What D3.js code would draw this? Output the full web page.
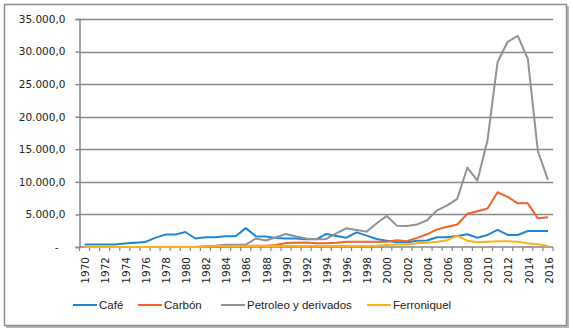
<!DOCTYPE html>
<html>
<head>
<meta charset="utf-8">
<script src="https://cdn.jsdelivr.net/npm/d3@7"></script>
<style>
    body { margin: 0; background: #fff; }
</style>
</head>
<body>
<div id="vizExport"></div>
<script>

// Years on the category axis
const years = d3.range(1970, 2017);

// Series values
const cafe = [400, 400, 400, 400, 550, 650, 750, 1400, 1900, 1900, 2300, 1300, 1500, 1500, 1650, 1650,
    2900, 1650, 1600, 1400, 1300, 1300, 1200, 1180, 2000, 1700, 1430, 2250, 1740, 1230, 970, 720,
    720, 970, 1000, 1490, 1490, 1700, 1950, 1430, 1850, 2620, 1850, 1850, 2460, 2460, 2460];

const carbon = [0, 0, 0, 0, 0, 0, 0, 0, 0, 0, 0, 0, 0, 50, 100, 150,
    150, 200, 200, 300, 600, 650, 700, 570, 570, 660, 800, 800, 800, 800, 800, 1050,
    900, 1400, 1950, 2700, 3100, 3460, 5100, 5500, 5900, 8400, 7700, 6700, 6700, 4400, 4570];

const petroleo = [0, 0, 0, 0, 0, 0, 0, 0, 0, 0, 0, 0, 100, 200, 350, 350,
    350, 1300, 1000, 1500, 2000, 1600, 1300, 1180, 1230, 2100, 2880, 2620, 2360, 3650, 4770, 3280,
    3230, 3460, 4100, 5630, 6400, 7400, 12200, 10200, 16400, 28400, 31500, 32400, 28900, 14700, 10300];

const ferroniquel = [0, 0, 0, 0, 0, 0, 0, 0, 0, 0, 0, 0, 50, 100, 120, 150,
    150, 150, 150, 150, 150, 150, 150, 150, 150, 150, 150, 150, 150, 200, 300, 400,
    400, 570, 670, 800, 1030, 1700, 970, 720, 800, 900, 900, 800, 570, 410, 150];

const seriesNames = ['Café', 'Carbón', 'Petroleo y derivados', 'Ferroniquel'];
const seriesColors = ['#1f86d6', '#f2622a', '#8e9396', '#fbb215'];
const yTicks = [0, 5000, 10000, 15000, 20000, 25000, 30000, 35000];

const series = [cafe, carbon, petroleo, ferroniquel];

const width = 573,
    height = 331;

const margin = {top: 19, right: 20, bottom: 84, left: 79.5};

const svg = d3.select("#vizExport")
    .append("svg")
    .attr("width", width)
    .attr("height", height);

// outer frame with a little shadow like the original
svg.append("rect")
    .attr("x", 6).attr("y", 6)
    .attr("width", width - 10).attr("height", height - 9)
    .attr("fill", "#b8b8b8");
svg.append("rect")
    .attr("x", 4.5).attr("y", 4.5)
    .attr("width", width - 11).attr("height", height - 10)
    .attr("fill", "#fff")
    .attr("stroke", "#8c8c8c")
    .attr("stroke-width", 1.5);

let x = d3.scaleBand()
    .domain(years)
    .range([margin.left, width - margin.right])
    .paddingInner(0)
    .paddingOuter(0);

let y = d3.scaleLinear()
    .domain([0, 35000])
    .range([height - margin.bottom, margin.top]);

const xc = d => x(d) + x.bandwidth() / 2;

// A formatter for the value axis, Spanish style, zero as a dash
const fmt = d3.formatLocale({decimal: ",", thousands: ".", grouping: [3], currency: ["", ""]}).format(",.1f");

// gridlines
svg.append("g")
    .selectAll("line")
    .data(yTicks.slice(1))
    .enter().append("line")
    .attr("x1", margin.left)
    .attr("x2", width - margin.right)
    .attr("y1", d => Math.round(y(d)) + 0.5)
    .attr("y2", d => Math.round(y(d)) + 0.5)
    .attr("stroke", "#868686")
    .attr("stroke-width", 1.5);

// y axis
let yAxis = svg.append("g")
    .attr("transform", "translate(" + margin.left + ",0)")
    .call(d3.axisLeft(y).tickValues(yTicks).tickSize(4).tickPadding(10)
        .tickFormat(d => d == 0 ? "-" : fmt(d)));
yAxis.select(".domain").attr("stroke", "#868686").attr("stroke-width", 1.5);
yAxis.selectAll(".tick line").attr("stroke", "#868686").attr("stroke-width", 1.5);
yAxis.selectAll("text")
    .style("font-family", "DejaVu Sans")
    .style("font-size", "10.5px")
    .attr("fill", "#222");
yAxis.selectAll(".tick").filter(d => d == 0).select("text").attr("dx", -7);

// x axis: ticks at category boundaries, labels rotated
let xAxis = svg.append("g")
    .attr("transform", "translate(0," + (height - margin.bottom) + ")");
xAxis.append("line")
    .attr("x1", margin.left).attr("x2", width - margin.right)
    .attr("stroke", "#868686").attr("stroke-width", 1.5);
xAxis.selectAll(".xtick")
    .data(years.concat([2017]))
    .enter().append("line")
    .attr("class", "xtick")
    .attr("x1", d => d == 2017 ? width - margin.right : x(d))
    .attr("x2", d => d == 2017 ? width - margin.right : x(d))
    .attr("y1", 0).attr("y2", 4)
    .attr("stroke", "#868686").attr("stroke-width", 1.2);
xAxis.selectAll(".xlab")
    .data(years.filter(d => d % 2 == 0))
    .enter().append("text")
    .attr("class", "xlab")
    .attr("transform", d => "translate(" + (xc(d) + 1) + ",10) rotate(-90)")
    .attr("dy", "0.35em")
    .style("text-anchor", "end")
    .style("font-family", "DejaVu Sans")
    .style("font-size", "10.5px")
    .attr("fill", "#222")
    .text(d => d);

// series lines
const line = d3.line()
    .x((d, i) => xc(years[i]))
    .y(d => y(d));

svg.append("g")
    .selectAll("path")
    .data(series)
    .enter().append("path")
    .attr("fill", "none")
    .attr("stroke", (d, i) => seriesColors[i])
    .attr("stroke-width", 2)
    .attr("stroke-linejoin", "round")
    .attr("d", line);

// legend
const legendX = [73, 138, 221, 367];
let legend = svg.append("g")
    .selectAll("g")
    .data(seriesNames)
    .enter().append("g")
    .attr("transform", (d, i) => "translate(" + legendX[i] + ",305)");
legend.append("line")
    .attr("x1", 0).attr("x2", 24)
    .attr("stroke", (d, i) => seriesColors[i])
    .attr("stroke-width", 2);
legend.append("text")
    .attr("x", 26)
    .attr("dy", "0.35em")
    .style("font-family", "Liberation Sans")
    .style("font-size", "11.5px")
    .attr("fill", "#222")
    .text(d => d);

</script>
</body>
</html>
